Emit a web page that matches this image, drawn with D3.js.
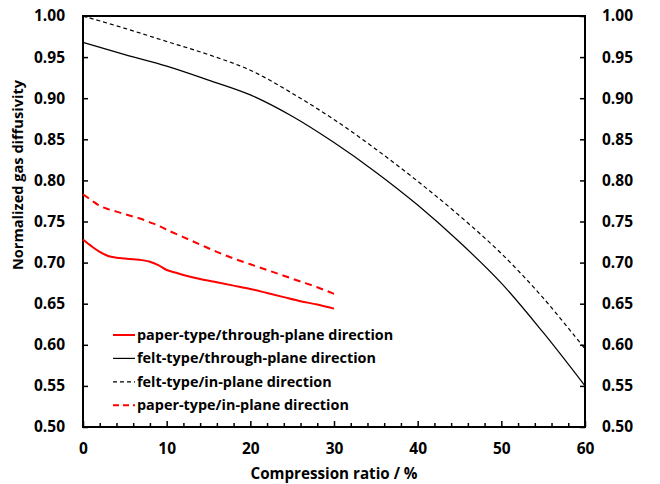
<!DOCTYPE html>
<html>
<head>
<meta charset="utf-8">
<script src="https://cdn.jsdelivr.net/npm/d3@7"></script>
<style>
  body { margin: 0; background: #fff; }
  svg { display: block; }
</style>
</head>
<body>
<div id="chart"></div>
<script>
// compression ratio (%) vs normalized gas diffusivity
const feltThroughX = [0, 5, 10, 15, 20, 25, 30, 35, 40, 45, 50, 55, 60];
const feltThroughY = [0.968, 0.953, 0.939, 0.922, 0.904, 0.878, 0.846, 0.810, 0.770, 0.725, 0.675, 0.615, 0.550];

const feltInX = [0, 5, 10, 15, 20, 25, 30, 35, 40, 45, 50, 55, 60];
const feltInY = [1.000, 0.985, 0.969, 0.953, 0.934, 0.906, 0.874, 0.838, 0.799, 0.757, 0.711, 0.657, 0.595];

const paperThroughX = [0, 1, 2, 3, 4, 5, 6, 7, 8, 9, 10, 11, 12, 14, 16, 18, 20, 22, 24, 26, 28, 30];
const paperThroughY = [0.728, 0.720, 0.713, 0.708, 0.706, 0.705, 0.704, 0.703, 0.701, 0.697, 0.691, 0.688, 0.685, 0.680, 0.676, 0.672, 0.668, 0.663, 0.658, 0.653, 0.649, 0.644];

const paperInX = [0, 1, 2, 3, 4, 5, 6, 7, 8, 9, 10, 12, 14, 16, 18, 20, 22, 24, 26, 28, 30];
const paperInY = [0.783, 0.776, 0.769, 0.765, 0.762, 0.759, 0.756, 0.753, 0.749, 0.745, 0.740, 0.731, 0.722, 0.713, 0.705, 0.698, 0.691, 0.684, 0.677, 0.670, 0.662];

const xTicks = [0, 10, 20, 30, 40, 50, 60];
const yTicks = [0.50, 0.55, 0.60, 0.65, 0.70, 0.75, 0.80, 0.85, 0.90, 0.95, 1.00];

const series = [
  { name: 'paper-type/through-plane direction', xs: paperThroughX, ys: paperThroughY, color: '#ff0000', width: 2, dash: null },
  { name: 'felt-type/through-plane direction', xs: feltThroughX, ys: feltThroughY, color: '#000', width: 1.2, dash: null },
  { name: 'felt-type/in-plane direction', xs: feltInX, ys: feltInY, color: '#000', width: 1.2, dash: '4,3' },
  { name: 'paper-type/in-plane direction', xs: paperInX, ys: paperInY, color: '#ff0000', width: 2, dash: '7,5' }
];

const W = 660, H = 484;
const m = { left: 83, right: 75, top: 16, bottom: 57 };
const font = '"Open Sans", sans-serif';

const svg = d3.select('#chart').append('svg')
  .attr('width', W)
  .attr('height', H)
  .attr('font-family', font)
  .attr('font-weight', 700);

const x = d3.scaleLinear().domain([0, 60]).range([m.left, W - m.right]);
const y = d3.scaleLinear().domain([0.5, 1.0]).range([H - m.bottom, m.top]);

// frame
svg.append('rect')
  .attr('x', x(0)).attr('y', y(1))
  .attr('width', x(60) - x(0)).attr('height', y(0.5) - y(1))
  .attr('fill', 'none').attr('stroke', '#000').attr('stroke-width', 2);

// bottom axis: majors labelled, minors every 2
const xAxis = svg.append('g').attr('transform', `translate(0,${y(0.5)})`)
  .call(d3.axisBottom(x).tickValues(xTicks).tickSize(-6).tickFormat(d3.format('d')).tickPadding(16));
svg.append('g').attr('transform', `translate(0,${y(0.5)})`)
  .call(d3.axisBottom(x).tickValues(d3.range(2, 60, 2).filter(d => d % 10)).tickSize(-4).tickFormat(''))
  .call(g => g.select('.domain').remove());

const yLeft = svg.append('g').attr('transform', `translate(${x(0)},0)`)
  .call(d3.axisLeft(y).tickValues(yTicks).tickSize(-5).tickFormat(d3.format('.2f')).tickPadding(18));
const yRight = svg.append('g').attr('transform', `translate(${x(60)},0)`)
  .call(d3.axisRight(y).tickValues(yTicks).tickSize(-5).tickFormat(d3.format('.2f')).tickPadding(17));

[xAxis, yLeft, yRight].forEach(g => {
  g.select('.domain').remove();
  g.selectAll('text').attr('font-size', 15.5).attr('font-family', font).attr('font-weight', 700).attr('fill', '#000');
});
svg.selectAll('.tick line').attr('stroke-width', 1.5);

const line = d3.line().x(d => x(d[0])).y(d => y(d[1])).curve(d3.curveCatmullRom.alpha(0.5));

svg.append('g').selectAll('path')
  .data(series)
  .join('path')
  .attr('d', s => line(s.xs.map((v, i) => [v, s.ys[i]])))
  .attr('fill', 'none')
  .attr('stroke', s => s.color)
  .attr('stroke-width', s => s.width)
  .attr('stroke-dasharray', s => s.dash);

// legend
const legend = svg.append('g').attr('transform', 'translate(113,335)');
const row = legend.selectAll('g')
  .data(series)
  .join('g')
  .attr('transform', (d, i) => `translate(0,${i * 23.4})`);
row.append('line')
  .attr('x1', 0).attr('x2', 22)
  .attr('stroke', d => d.color)
  .attr('stroke-width', d => d.width)
  .attr('stroke-dasharray', d => d.dash === '7,5' ? '6,4' : d.dash);
row.append('text')
  .attr('x', 24).attr('dy', '0.35em')
  .attr('font-size', 14.4)
  .text(d => d.name);

// axis titles
svg.append('text')
  .attr('x', (x(0) + x(60)) / 2).attr('y', 479)
  .attr('text-anchor', 'middle')
  .attr('font-size', 15.2)
  .text('Compression ratio / %');

svg.append('text')
  .attr('transform', 'translate(23,175) rotate(-90)')
  .attr('text-anchor', 'middle')
  .attr('font-size', 14.6)
  .text('Normalized gas diffusivity');
</script>
</body>
</html>
